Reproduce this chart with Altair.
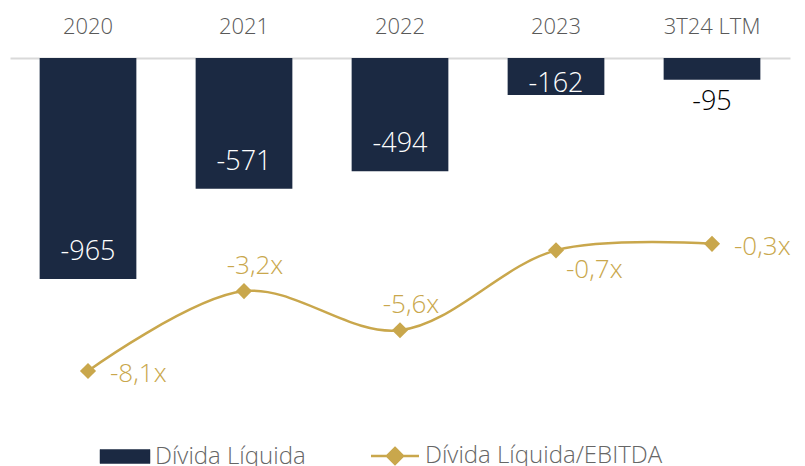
import altair as alt
import pandas as pd

categories = ["2020", "2021", "2022", "2023", "3T24 LTM"]
divida_liquida = [-965, -571, -494, -162, -95]
alavancagem = [-8.1, -3.2, -5.6, -0.7, -0.3]
label_pos = ["right", "above", "above", "below", "right"]
bar_label_pos = ["inside", "inside", "inside", "edge", "outside"]

NAVY = "#1B2942"
GOLD = "#C9A74C"
FONT = "Open Sans"
S1 = "Dívida Líquida"
S2 = "Dívida Líquida/EBITDA"

df = pd.DataFrame({
    "cat": categories,
    "dl": divida_liquida,
    "lev": alavancagem,
    "lpos": label_pos,
    "bpos": bar_label_pos,
})

x = alt.X("cat:N", sort=categories, title=None,
          scale=alt.Scale(paddingInner=0.38, paddingOuter=0.19),
          axis=alt.Axis(orient="top", labelAngle=0, ticks=False, tickSize=0,
                        domainColor="#D9D9D9", domainWidth=2,
                        labelFontSize=22, labelColor="#595959", labelFont=FONT,
                        labelFontWeight=300, labelPadding=20))

yb = alt.Y("dl:Q", axis=None, scale=alt.Scale(domain=[-1493, 0], nice=False))
yl = alt.Y("lev:Q", axis=None, scale=alt.Scale(domain=[-9.88, 11.1], nice=False, zero=False))

is1 = f"datum.value == '{S1}'"
color = alt.Color("series:N", title=None,
                  scale=alt.Scale(domain=[S1, S2], range=[NAVY, GOLD]),
                  legend=alt.Legend(
                      orient="none", legendX=103, legendY=386, direction="horizontal",
                      labelFontSize=24, labelColor="#666666", labelFont=FONT,
                      labelFontWeight=300, symbolSize=2500,
                      columnPadding=60, labelOffset=18, labelLimit=400,
                      symbolOpacity=1,
                      symbolType={"expr": f"{is1} ? 'M-1,-0.28H1V0.28H-1Z' : 'M-0.96,0H0.96M0,-0.32L0.32,0L0,0.32L-0.32,0Z'"},
                      symbolFillColor={"expr": f"{is1} ? '{NAVY}' : '{GOLD}'"},
                      symbolStrokeColor={"expr": f"{is1} ? '{NAVY}' : '{GOLD}'"},
                      symbolStrokeWidth={"expr": f"{is1} ? 0.5 : 2.5"},
                  ))

base = alt.Chart(df).transform_calculate(
    dl_txt="'' + datum.dl",
    lbl="replace(replace(format(datum.lev, '.1f'), '.', ','), '\u2212', '-') + 'x'",
)

bars = base.transform_calculate(series=f"'{S1}'").mark_bar(color=NAVY).encode(
    x=x, y=yb, color=color)

bar_text_style = dict(fontSize=27, font=FONT, fontWeight=300, baseline="middle", align="center")
bt_inside = base.transform_filter("datum.bpos == 'inside'").mark_text(
    color="white", dy=-27, **bar_text_style).encode(x=x, y=yb, text="dl_txt:N")
bt_edge = base.transform_filter("datum.bpos == 'edge'").mark_text(
    color="white", dy=-11, **bar_text_style).encode(x=x, y=yb, text="dl_txt:N")
bt_out = base.transform_filter("datum.bpos == 'outside'").mark_text(
    color="black", dy=22, **bar_text_style).encode(x=x, y=yb, text="dl_txt:N")

bar_layer = alt.layer(bars, bt_inside, bt_edge, bt_out)

line = base.transform_calculate(series=f"'{S2}'").mark_line(
    color=GOLD, strokeWidth=2.5, interpolate="catmull-rom").encode(
    x=x, y=yl, color=color)
pts = base.transform_calculate(series=f"'{S2}'").mark_point(
    shape="diamond", filled=True, size=260, opacity=1, color=GOLD).encode(
    x=x, y=yl, color=color)

lt_style = dict(fontSize=26, font=FONT, fontWeight=300, color=GOLD, baseline="middle")
lt_right = base.transform_filter("datum.lpos == 'right'").mark_text(
    align="left", dx=22, dy=3, **lt_style).encode(x=x, y=yl, text="lbl:N")
lt_above = base.transform_filter("datum.lpos == 'above'").mark_text(
    align="center", dx=11, dy=-25, **lt_style).encode(x=x, y=yl, text="lbl:N")
lt_below = base.transform_filter("datum.lpos == 'below'").mark_text(
    align="left", dx=10, dy=20, **lt_style).encode(x=x, y=yl, text="lbl:N")

line_layer = alt.layer(line, pts, lt_right, lt_above, lt_below)

chart = alt.layer(bar_layer, line_layer).resolve_scale(y="independent").properties(
    width=780, height=342, background="white",
    autosize=alt.AutoSizeParams(type="none"),
    padding={"left": 2, "top": 50, "right": 7, "bottom": 66},
).configure_view(stroke=None)

chart.save("out.html", embed_options={"renderer": "svg", "actions": False})
